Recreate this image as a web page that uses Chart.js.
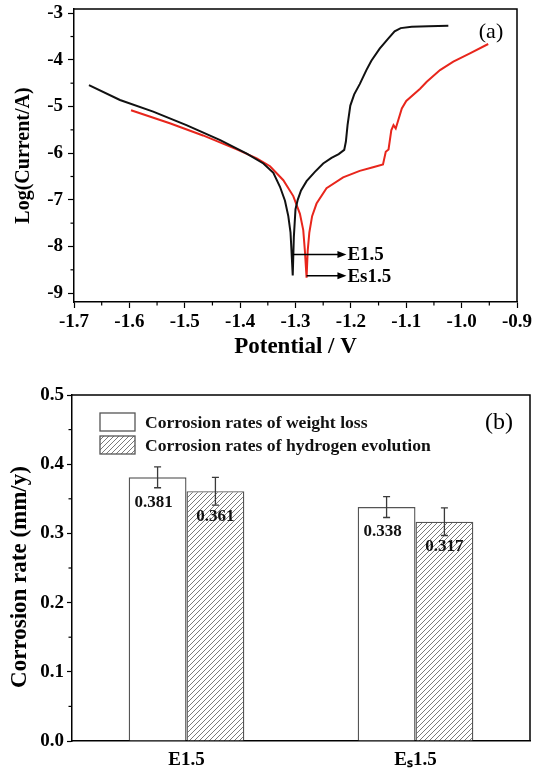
<!DOCTYPE html>
<html><head><meta charset="utf-8">
<script src="https://cdn.jsdelivr.net/npm/chart.js@4.4.1/dist/chart.umd.min.js"></script>
<style>
html,body{margin:0;padding:0;background:#fff;width:534px;height:773px;overflow:hidden}
canvas{position:absolute;left:0}
#ca{top:0}
#cb{top:370px}
</style></head><body>
<canvas id="ca" width="534" height="362"></canvas>
<canvas id="cb" width="534" height="403"></canvas>
<script>
// ---------- Panel (a): polarization curves ----------
const e15Potential = [-1.673,-1.617,-1.557,-1.497,-1.436,-1.388,-1.358,-1.340,-1.328,-1.319,-1.313,-1.309,-1.307,-1.305,
  -1.303,-1.300,-1.296,-1.290,-1.280,-1.265,-1.250,-1.235,-1.222,-1.212,-1.209,-1.206,-1.201,-1.194,-1.184,-1.172,-1.163,-1.148,-1.133,-1.121,-1.110,-1.090,-1.060,-1.024];
const e15LogCurrent = [-4.54,-4.86,-5.11,-5.40,-5.72,-6.01,-6.22,-6.42,-6.72,-7.02,-7.35,-7.70,-8.15,-8.62,
  -7.80,-7.20,-7.00,-6.80,-6.60,-6.40,-6.22,-6.10,-6.02,-5.93,-5.75,-5.40,-4.98,-4.74,-4.52,-4.22,-4.02,-3.76,-3.55,-3.39,-3.32,-3.29,-3.28,-3.27];
const es15Potential = [-1.597,-1.527,-1.467,-1.406,-1.370,-1.346,-1.322,-1.304,-1.292,-1.286,-1.283,-1.280,
  -1.278,-1.275,-1.270,-1.262,-1.244,-1.214,-1.184,-1.160,-1.142,-1.137,-1.132,-1.127,-1.123,-1.119,-1.108,-1.100,-1.075,-1.063,-1.039,-1.015,-0.985,-0.952];
const es15LogCurrent = [-5.08,-5.36,-5.62,-5.92,-6.11,-6.28,-6.58,-6.92,-7.30,-7.65,-8.10,-8.67,
  -8.10,-7.70,-7.35,-7.08,-6.75,-6.52,-6.38,-6.30,-6.24,-5.97,-5.92,-5.51,-5.40,-5.47,-5.04,-4.88,-4.62,-4.47,-4.22,-4.04,-3.86,-3.66];
const potentialTicks = [-1.7,-1.6,-1.5,-1.4,-1.3,-1.2,-1.1,-1.0,-0.9];
const potentialMinor = [-1.65,-1.55,-1.45,-1.35,-1.25,-1.15,-1.05,-0.95];
const logCurrentTicks = [-9,-8,-7,-6,-5,-4,-3];
const logCurrentMinor = [-8.5,-7.5,-6.5,-5.5,-4.5,-3.5];
const markerLabels = ['E1.5','Es1.5'];
const markerStartPotential = [-1.305,-1.280];
const markerEndPotential = [-1.208,-1.208];
const markerLogCurrent = [-8.17,-8.63];

// ---------- Panel (b): corrosion rates ----------
const samples = ['E1.5','E\u209B1.5'];
const weightLossRate = [0.381,0.338];
const weightLossErr = [0.015,0.015];
const hydrogenRate = [0.361,0.317];
const hydrogenErr = [0.020,0.020];
const rateTicks = [0,0.1,0.2,0.3,0.4,0.5];
const rateMinor = [0.05,0.15,0.25,0.35,0.45];
const seriesNames = ['Corrosion rates of weight loss','Corrosion rates of hydrogen evolution'];
const rateAxisTitle = 'Corrosion rate (mm/y)';

const SERIF = '"Liberation Serif","Times New Roman",serif';

function setTicks(arr){ return function(scale){ scale.ticks = arr.map(v=>({value:v})); }; }
function fixSize(prop,val){ return function(scale){ scale[prop]=val; scale.paddingTop=0; scale.paddingBottom=0; scale.paddingLeft=0; scale.paddingRight=0; }; }

const framePlugin = {
  id:'frame',
  afterDraw(chart, args, opts){
    const {ctx, chartArea:a} = chart;
    ctx.save();
    ctx.strokeStyle='#000'; ctx.lineWidth=1.5;
    ctx.beginPath();
    ctx.moveTo(a.left,a.top); ctx.lineTo(a.right,a.top); ctx.lineTo(a.right,a.bottom);
    ctx.stroke();
    ctx.lineWidth=1.2;
    (opts.minorX||[]).forEach(v=>{ const x=chart.scales.x.getPixelForValue(v); ctx.beginPath(); ctx.moveTo(x,a.bottom); ctx.lineTo(x,a.bottom+3.5); ctx.stroke(); });
    (opts.minorY||[]).forEach(v=>{ const y=chart.scales.y.getPixelForValue(v); ctx.beginPath(); ctx.moveTo(a.left-3.5,y); ctx.lineTo(a.left,y); ctx.stroke(); });
    if (opts.tag){
      ctx.fillStyle='#000'; ctx.font=opts.tag.font; ctx.textAlign='center'; ctx.textBaseline='middle';
      ctx.fillText(opts.tag.text, opts.tag.x, opts.tag.y);
    }
    if (opts.yTitle){
      ctx.save();
      ctx.translate(opts.yTitle.x, opts.yTitle.y); ctx.rotate(-Math.PI/2);
      ctx.fillStyle='#000'; ctx.font=opts.yTitle.font; ctx.textAlign='center'; ctx.textBaseline='middle';
      ctx.fillText(opts.yTitle.text,0,0);
      ctx.restore();
    }
    ctx.restore();
  }
};

const markerPlugin = {
  id:'markers',
  afterDatasetsDraw(chart){
    const xs=chart.scales.x, ys=chart.scales.y, ctx=chart.ctx;
    ctx.save();
    ctx.strokeStyle='#000'; ctx.fillStyle='#000'; ctx.lineWidth=1.5;
    markerLabels.forEach((lab,i)=>{
      const x0=xs.getPixelForValue(markerStartPotential[i]);
      const x1=xs.getPixelForValue(markerEndPotential[i]);
      const y=ys.getPixelForValue(markerLogCurrent[i]);
      ctx.beginPath(); ctx.moveTo(x0,y); ctx.lineTo(x1-6,y); ctx.stroke();
      ctx.beginPath(); ctx.moveTo(x1,y); ctx.lineTo(x1-9,y-3.5); ctx.lineTo(x1-9,y+3.5); ctx.closePath(); ctx.fill();
      ctx.font='bold 19px '+SERIF; ctx.textAlign='left'; ctx.textBaseline='middle';
      ctx.fillText(lab,x1+1,y+1);
    });
    ctx.restore();
  }
};

function pts(xs,ys){ return xs.map((x,i)=>({x:x,y:ys[i]})); }

new Chart(document.getElementById('ca'),{
  type:'scatter',
  data:{datasets:[
    {label:'E1.5', data:pts(e15Potential,e15LogCurrent), showLine:true, borderColor:'#111', borderWidth:2, pointRadius:0, tension:0, fill:false},
    {label:'Es1.5', data:pts(es15Potential,es15LogCurrent), showLine:true, borderColor:'#e8261c', borderWidth:2, pointRadius:0, tension:0, fill:false}
  ]},
  options:{
    responsive:false, devicePixelRatio:1, animation:false,
    layout:{padding:{left:0,top:9,right:17,bottom:0}},
    plugins:{legend:{display:false}, tooltip:{enabled:false},
      frame:{minorX:potentialMinor, minorY:logCurrentMinor, tag:{text:'(a)', x:491, y:32, font:'22px '+SERIF}}},
    scales:{
      x:{type:'linear', min:-1.7, max:-0.9,
        afterBuildTicks:setTicks(potentialTicks), afterFit:fixSize('height',60),
        grid:{display:true, drawOnChartArea:false, drawTicks:true, tickLength:6, tickColor:'#000', tickWidth:1.2},
        border:{display:true, color:'#000', width:1.5},
        ticks:{color:'#000', font:{family:SERIF, size:19, weight:'bold'}, padding:3, maxRotation:0, autoSkip:false, callback:v=>v.toFixed(1)},
        title:{display:true, text:'Potential / V', color:'#000', font:{family:SERIF, size:23, weight:'bold'}, padding:{top:0,bottom:1}}
      },
      y:{type:'linear', min:-9.19, max:-2.91,
        afterBuildTicks:setTicks(logCurrentTicks), afterFit:fixSize('width',74),
        grid:{display:true, drawOnChartArea:false, drawTicks:true, tickLength:6, tickColor:'#000', tickWidth:1.2},
        border:{display:true, color:'#000', width:1.5},
        ticks:{color:'#000', font:{family:SERIF, size:19, weight:'bold'}, padding:5, callback:v=>String(v)},
        title:{display:true, text:'Log(Current/A)', color:'#000', font:{family:SERIF, size:20, weight:'bold'}, padding:{top:12,bottom:0}}
      }
    }
  },
  plugins:[framePlugin, markerPlugin]
});

// hatch pattern
function makeHatch(){
  const c=document.createElement('canvas'); c.width=5; c.height=5;
  const g=c.getContext('2d');
  g.fillStyle='#fff'; g.fillRect(0,0,5,5);
  g.strokeStyle='#7a7a7a'; g.lineWidth=1;
  g.beginPath();
  g.moveTo(-1,6); g.lineTo(6,-1);
  g.moveTo(-1,1); g.lineTo(1,-1);
  g.moveTo(4,6); g.lineTo(6,4);
  g.stroke();
  return document.getElementById('cb').getContext('2d').createPattern(c,'repeat');
}
const hatch = makeHatch();
const errs = [weightLossErr, hydrogenErr];

const barExtras = {
  id:'barExtras',
  afterDatasetsDraw(chart){
    const ctx=chart.ctx, ys=chart.scales.y;
    ctx.save();
    chart.data.datasets.forEach((ds,di)=>{
      const meta=chart.getDatasetMeta(di);
      meta.data.forEach((bar,j)=>{
        const v=ds.data[j], e=errs[di][j];
        const yt=ys.getPixelForValue(v+e), yb=ys.getPixelForValue(v-e), x=bar.x;
        ctx.strokeStyle='#3a3a3a'; ctx.lineWidth=1.3;
        ctx.beginPath();
        ctx.moveTo(x,yt); ctx.lineTo(x,yb);
        ctx.moveTo(x-3.5,yt); ctx.lineTo(x+3.5,yt);
        ctx.moveTo(x-3.5,yb); ctx.lineTo(x+3.5,yb);
        ctx.stroke();
        ctx.fillStyle='#111'; ctx.font='bold 17px '+SERIF; ctx.textAlign='center'; ctx.textBaseline='middle';
        ctx.fillText(v.toFixed(3), x-(di===0?4:0), ys.getPixelForValue(v)+25);
      });
    });
    // legend
    const boxes=[[100,43,35,18],[100,66,35,18]];
    chart.data.datasets.forEach((ds,di)=>{
      const b=boxes[di];
      ctx.fillStyle=ds.backgroundColor; ctx.fillRect(b[0],b[1],b[2],b[3]);
      ctx.strokeStyle='#555'; ctx.lineWidth=1.3; ctx.strokeRect(b[0],b[1],b[2],b[3]);
      ctx.fillStyle='#111'; ctx.font='bold 17.6px '+SERIF; ctx.textAlign='left'; ctx.textBaseline='middle';
      ctx.fillText(ds.label, 145, b[1]+b[3]/2+1);
    });
    ctx.restore();
  }
};

new Chart(document.getElementById('cb'),{
  type:'bar',
  data:{labels:samples, datasets:[
    {label:seriesNames[0], data:weightLossRate, backgroundColor:'#ffffff', borderColor:'#555', borderWidth:1.4, borderSkipped:'bottom', barPercentage:1, categoryPercentage:0.505},
    {label:seriesNames[1], data:hydrogenRate, backgroundColor:hatch, borderColor:'#555', borderWidth:1.4, borderSkipped:'bottom', barPercentage:1, categoryPercentage:0.505}
  ]},
  options:{
    responsive:false, devicePixelRatio:1, animation:false,
    layout:{padding:{left:0,top:25,right:4,bottom:0}},
    plugins:{legend:{display:false}, tooltip:{enabled:false},
      frame:{minorY:rateMinor, tag:{text:'(b)', x:499, y:53, font:'24px '+SERIF},
        yTitle:{text:rateAxisTitle, x:20, y:207, font:'bold 23px '+SERIF}}},
    scales:{
      x:{type:'category', offset:true, afterFit:fixSize('height',32),
        grid:{display:false, drawTicks:false, tickLength:0},
        border:{display:true, color:'#000', width:1.5},
        ticks:{color:'#000', font:{family:SERIF, size:19, weight:'bold'}, padding:8, maxRotation:0}
      },
      y:{type:'linear', min:0, max:0.5,
        afterBuildTicks:setTicks(rateTicks), afterFit:fixSize('width',72),
        grid:{display:true, drawOnChartArea:false, drawTicks:true, tickLength:5, tickColor:'#000', tickWidth:1.2},
        border:{display:true, color:'#000', width:1.5},
        ticks:{color:'#000', font:{family:SERIF, size:19, weight:'bold'}, padding:3, callback:v=>v.toFixed(1)}
      }
    }
  },
  plugins:[framePlugin, barExtras]
});
</script>
</body></html>
